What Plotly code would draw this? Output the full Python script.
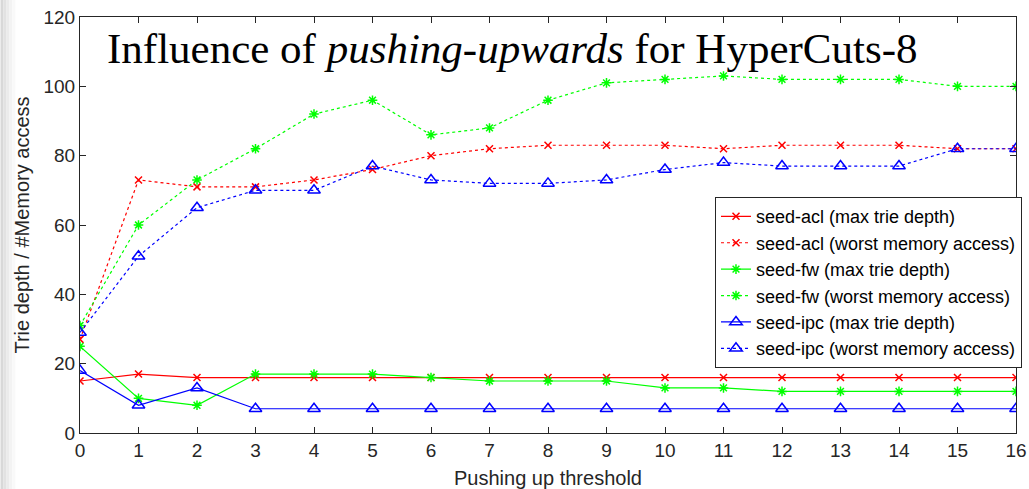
import plotly.graph_objects as go

x = list(range(17))
acl_depth = [15, 17, 16, 16, 16, 16, 16, 16, 16, 16, 16, 16, 16, 16, 16, 16, 16]
acl_mem = [27, 73, 71, 71, 73, 76, 80, 82, 83, 83, 83, 82, 83, 83, 83, 82, 82]
fw_depth = [25, 10, 8, 17, 17, 17, 16, 15, 15, 15, 13, 13, 12, 12, 12, 12, 12]
fw_mem = [31, 60, 73, 82, 92, 96, 86, 88, 96, 101, 102, 103, 102, 102, 102, 100, 100]
ipc_depth = [18, 8, 13, 7, 7, 7, 7, 7, 7, 7, 7, 7, 7, 7, 7, 7, 7]
ipc_mem = [29, 51, 65, 70, 70, 77, 73, 72, 72, 73, 76, 78, 77, 77, 77, 82, 82]

series = [
    ("seed-acl (max trie depth)", acl_depth, "#ff0000", "solid", "x-thin", 7),
    ("seed-acl (worst memory access)", acl_mem, "#ff0000", "dot", "x-thin", 7),
    ("seed-fw (max trie depth)", fw_depth, "#00ff00", "solid", "asterisk", 8),
    ("seed-fw (worst memory access)", fw_mem, "#00ff00", "dot", "asterisk", 8),
    ("seed-ipc (max trie depth)", ipc_depth, "#0000ff", "solid", "triangle-up-open", 11),
    ("seed-ipc (worst memory access)", ipc_mem, "#0000ff", "dot", "triangle-up-open", 11),
]

fig = go.Figure()
for name, y, c, dash, sym, sz in series:
    fig.add_trace(go.Scatter(
        x=x, y=y, name=name, mode="lines+markers",
        line=dict(color=c, width=1.2, dash=dash),
        marker=dict(symbol=sym, size=sz, color=c, line=dict(color=c, width=1.5)),
    ))

font_ax = dict(family="Liberation Sans, Arial", size=19, color="#262626")
axis_common = dict(
    showgrid=False, zeroline=False, showline=True, linecolor="#262626", linewidth=1.2,
    mirror="ticks", ticks="inside", ticklen=6, tickcolor="#262626",
    tickfont=font_ax, ticklabeloverflow="allow", automargin=False,
)

shapes = []
for i, col in enumerate(["#d8d8d8", "#e2e2e2", "#ebebeb", "#f3f3f3", "#f9f9f9"]):
    shapes.append(dict(type="rect", xref="paper", yref="paper",
                       x0=(-80 + i * 3) / 942, x1=(-80 + (i + 1) * 3) / 942,
                       y0=-56 / 416, y1=473 / 416, fillcolor=col, line=dict(width=0),
                       layer="below"))

fig.update_layout(
    width=1029, height=489,
    margin=dict(l=80, r=7, t=17, b=56),
    paper_bgcolor="white", plot_bgcolor="white",
    xaxis=dict(range=[0, 16], tickmode="linear", dtick=1,
               title=dict(text="Pushing up threshold", standoff=11,
                          font=dict(family="Liberation Sans, Arial", size=20, color="#262626")),
               **axis_common),
    yaxis=dict(range=[0, 120], tickmode="linear", dtick=20,
               title=dict(text="Trie depth / #Memory access", standoff=8,
                          font=dict(family="Liberation Sans, Arial", size=20, color="#262626")),
               **axis_common),
    legend=dict(x=1.0064, y=0.567, xanchor="right", yanchor="top",
                bgcolor="white", bordercolor="#262626", borderwidth=1,
                font=dict(family="Liberation Sans, Arial", size=18, color="#000000"),
                tracegroupgap=0, itemwidth=30),
    showlegend=True,
    shapes=shapes,
    annotations=[dict(
        text="Influence of <i>pushing-upwards</i> for HyperCuts-8",
        x=0.027, y=0.925, xref="paper", yref="paper", xanchor="left", yanchor="middle",
        showarrow=False, font=dict(family="Liberation Serif, Times New Roman", size=43, color="black"),
    )],
)

fig.write_html("out.html")
